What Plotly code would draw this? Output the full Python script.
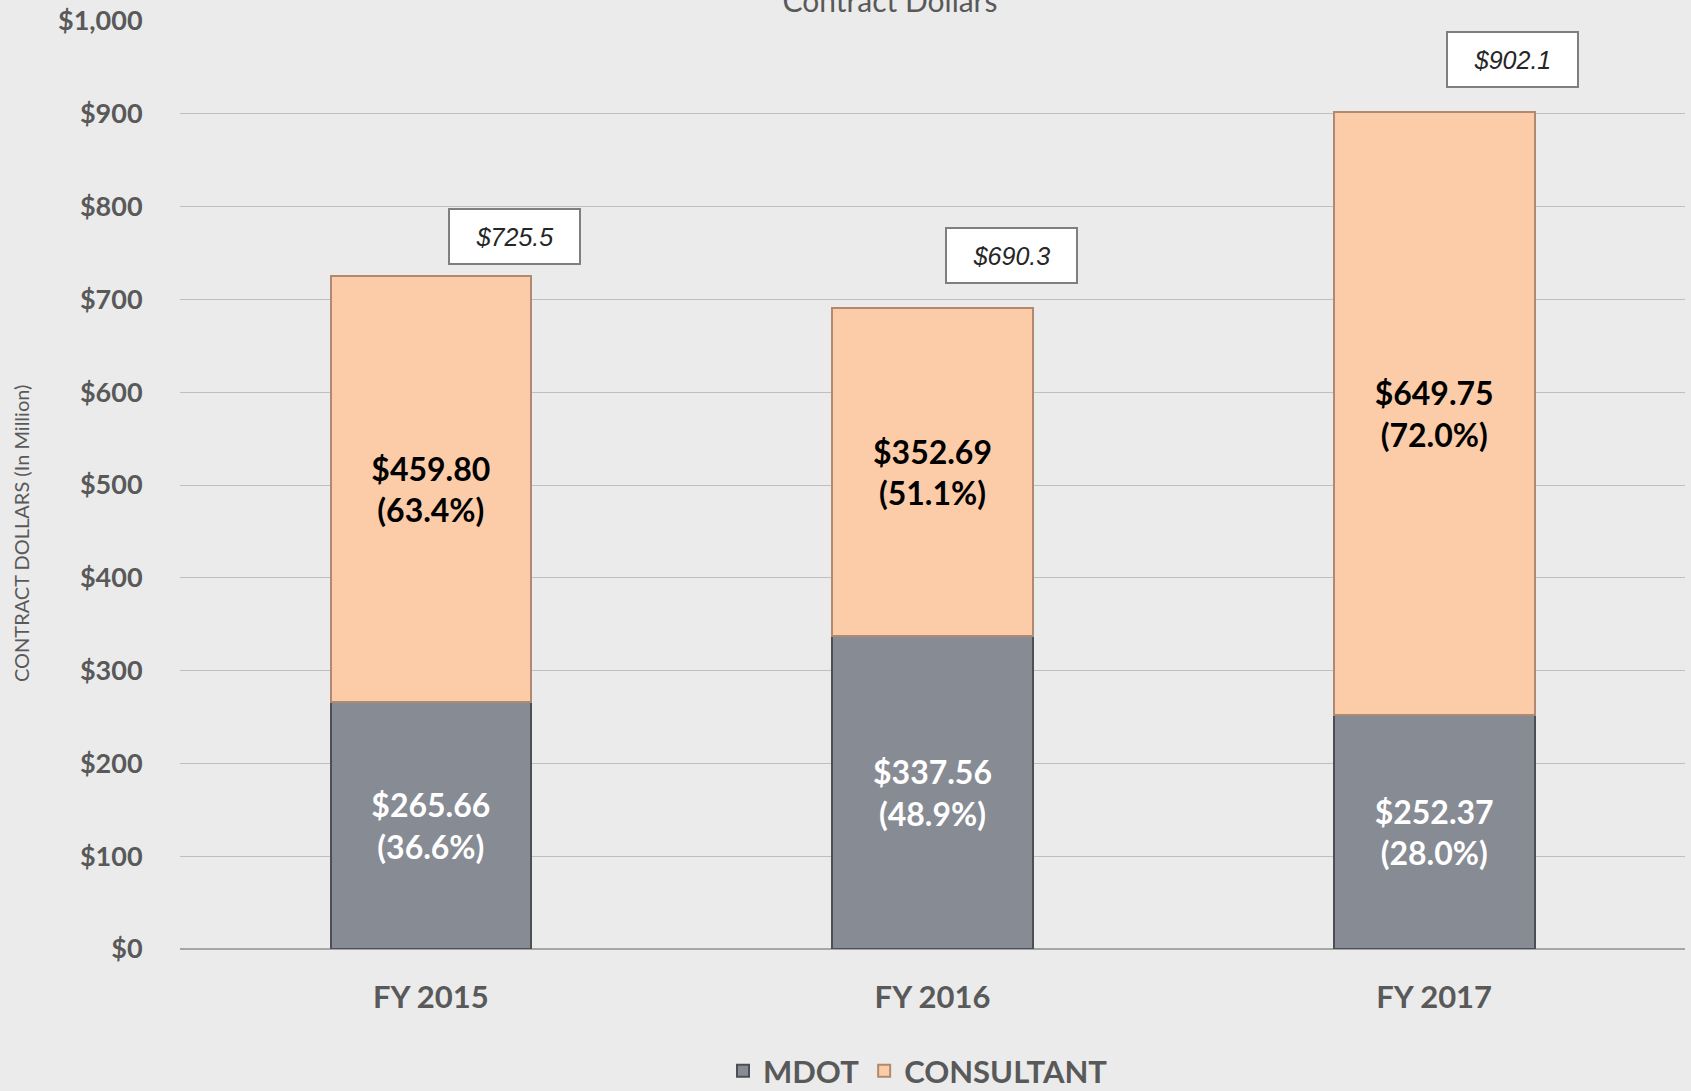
import plotly.graph_objects as go

categories = ["FY 2015", "FY 2016", "FY 2017"]
mdot = [265.66, 337.56, 252.37]
consultant = [459.80, 352.69, 649.75]
mdot_pct = ["36.6%", "48.9%", "28.0%"]
consultant_pct = ["63.4%", "51.1%", "72.0%"]
totals = [725.5, 690.3, 902.1]
y_ticks = [0, 100, 200, 300, 400, 500, 600, 700, 800, 900, 1000]
y_tick_labels = ["$0", "$100", "$200", "$300", "$400", "$500", "$600", "$700", "$800", "$900", "$1,000"]

# style: pixel offsets of the total boxes from the bar tops
box_xshift = [84, 79, 78]
box_yshift = [39, 53, 52]

FONT = "Lato"
GRAY = "#595959"

fig = go.Figure()
fig.add_trace(go.Bar(
    name="MDOT", x=categories, y=mdot,
    text=[f"<b>${v:.2f}<br>({p})</b>" for v, p in zip(mdot, mdot_pct)],
    textposition="inside", insidetextanchor="middle",
    textfont=dict(family=FONT, size=32, color="white"),
    marker=dict(color="#878b94", line=dict(color="#4d4f55", width=2)),
    width=0.4,
))
fig.add_trace(go.Bar(
    name="CONSULTANT", x=categories, y=consultant,
    text=[f"<b>${v:.2f}<br>({p})</b>" for v, p in zip(consultant, consultant_pct)],
    textposition="inside", insidetextanchor="middle",
    textfont=dict(family=FONT, size=32, color="black"),
    marker=dict(color="#fccca8", line=dict(color="#b08a70", width=2)),
    width=0.4,
))

for c, t, dx, dy in zip(categories, totals, box_xshift, box_yshift):
    fig.add_annotation(
        x=c, y=t, xref="x", yref="y", text=f"<i>${t:.1f}</i>",
        showarrow=False, xshift=dx, yshift=dy,
        font=dict(family="Liberation Sans, Arial", size=25, color="#262626"),
        bgcolor="white", bordercolor="#7f7f7f", borderwidth=2,
        width=123, height=47, borderpad=3,
    )

fig.add_annotation(
    x=(21 - 180) / (1691 - 186), y=(949 - 534) / (949 - 21),
    xref="paper", yref="paper", xanchor="center", yanchor="middle",
    text="CONTRACT DOLLARS (In Million)",
    showarrow=False, textangle=-90,
    font=dict(family=FONT, size=20, color=GRAY),
)

fig.update_layout(
    width=1691, height=1091,
    barmode="stack",
    paper_bgcolor="#ebebeb", plot_bgcolor="#ebebeb",
    margin=dict(l=180, r=6, t=21, b=142, autoexpand=False),
    title=dict(text="Contract Dollars", x=890 / 1691, xanchor="center", xref="container",
               y=0.999, yref="container", yanchor="middle",
               font=dict(family=FONT, size=30, color=GRAY)),
    showlegend=True,
    legend=dict(orientation="h", x=918 / 1691, xref="container", xanchor="center",
                y=20 / 1091, yref="container", yanchor="middle",
                font=dict(family=FONT, size=31, color=GRAY, weight="bold"),
                traceorder="normal", itemwidth=30, bgcolor="rgba(0,0,0,0)"),
    xaxis=dict(range=[-0.5, 2.5], showgrid=False, showline=False, zeroline=False,
               tickfont=dict(family=FONT, size=31, color=GRAY, weight="bold"),
               ticks="outside", ticklen=21, tickcolor="rgba(0,0,0,0)"),
    yaxis=dict(range=[0, 1000], tickvals=y_ticks, ticktext=y_tick_labels,
               showgrid=True, gridcolor="#bfbfbf", gridwidth=1,
               zeroline=True, zerolinecolor="#a6a6a6", zerolinewidth=2,
               tickfont=dict(family=FONT, size=27, color=GRAY, weight="bold"),
               ticks="outside", ticklen=31, tickcolor="rgba(0,0,0,0)"),
)

fig.write_html("out.html", post_script="document.body.style.margin='0';",
               config={"displayModeBar": False})
